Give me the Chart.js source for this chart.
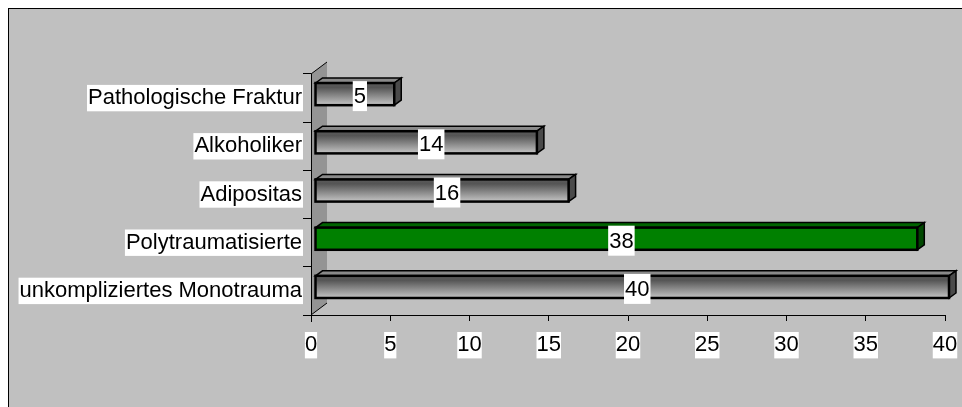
<!DOCTYPE html>
<html>
<head>
<meta charset="utf-8">
<script src="https://cdn.jsdelivr.net/npm/chart.js@4"></script>
<style>
  html, body { margin: 0; padding: 0; background: #fff; overflow: hidden; }
  #frame {
    position: absolute; left: 8px; top: 8px; width: 2000px; height: 2000px;
    background: #c0c0c0; border-left: 1px solid #000; border-top: 1px solid #000;
  }
  #graph { position: absolute; left: 0; top: 0; }
</style>
</head>
<body>
<div id="frame"></div>
<canvas id="graph" width="962" height="407"></canvas>
<script>
const categories = [
  "Pathologische Fraktur",
  "Alkoholiker",
  "Adipositas",
  "Polytraumatisierte",
  "unkompliziertes Monotrauma",
];
const counts = [5, 14, 16, 38, 40];
const highlighted = "Polytraumatisierte";
const xMin = 0;
const xMax = 40;
const xStep = 5;

const FONT = { family: "'Liberation Sans', Arial, sans-serif", size: 22 };

// 3d look: wall depth, bar offset and bar depth
const WALL_DX = 16, WALL_DY = -12;
const OX = 4, OY = -4;
const DX = 7, DY = -5;

const bar3d = {
  id: "bar3d",
  beforeDatasetsDraw(chart) {
    const { ctx, chartArea } = chart;
    const l = chartArea.left, t = chartArea.top, b = chartArea.bottom;
    ctx.save();
    ctx.beginPath();
    ctx.moveTo(l, t);
    ctx.lineTo(l + WALL_DX, t + WALL_DY);
    ctx.lineTo(l + WALL_DX, b + WALL_DY);
    ctx.lineTo(l, b);
    ctx.closePath();
    ctx.fillStyle = "#949494";
    ctx.fill();
    ctx.strokeStyle = "#000";
    ctx.lineWidth = 1;
    ctx.beginPath();
    ctx.moveTo(l + 0.5, t);
    ctx.lineTo(l + 0.5, b + 7);
    ctx.moveTo(l, t);
    ctx.lineTo(l + WALL_DX, t + WALL_DY);
    ctx.moveTo(l, b);
    ctx.lineTo(l + WALL_DX, b + WALL_DY);
    ctx.stroke();
    ctx.restore();
  },
  afterDatasetsDraw(chart) {
    const { ctx } = chart;
    const meta = chart.getDatasetMeta(0);
    meta.data.forEach((bar, i) => {
      const green = categories[i] === highlighted;
      const left = bar.base + OX, right = bar.x + OX;
      const top = bar.y - bar.height / 2 + OY, bottom = bar.y + bar.height / 2 + OY;
      ctx.save();
      ctx.lineJoin = "miter";
      // top face
      ctx.beginPath();
      ctx.moveTo(left, top);
      ctx.lineTo(left + DX, top + DY);
      ctx.lineTo(right + DX, top + DY);
      ctx.lineTo(right, top);
      ctx.closePath();
      ctx.fillStyle = green ? "#006400" : "#8a8a8a";
      ctx.fill();
      ctx.strokeStyle = "#000";
      ctx.lineWidth = 1.5;
      ctx.stroke();
      // side face
      ctx.beginPath();
      ctx.moveTo(right, top);
      ctx.lineTo(right + DX, top + DY);
      ctx.lineTo(right + DX, bottom + DY);
      ctx.lineTo(right, bottom);
      ctx.closePath();
      ctx.fillStyle = green ? "#004800" : "#4a4a4a";
      ctx.fill();
      ctx.stroke();
      // front face
      let fill;
      if (green) {
        fill = "#008000";
      } else {
        fill = ctx.createLinearGradient(0, top, 0, bottom);
        fill.addColorStop(0, "#5a5a5a");
        fill.addColorStop(0.2, "#555555");
        fill.addColorStop(1, "#c4c4c4");
      }
      ctx.fillStyle = fill;
      ctx.fillRect(left, top, right - left, bottom - top);
      ctx.lineWidth = 2.5;
      ctx.strokeRect(left, top, right - left, bottom - top);

      // value label
      const text = String(counts[i]);
      ctx.font = `${FONT.size}px ${FONT.family}`;
      const w = ctx.measureText(text).width;
      const cx = (bar.base + bar.x) / 2 + OX + 5;
      const cy = bar.y - 2;
      ctx.fillStyle = "#fff";
      ctx.fillRect(cx - w / 2 - 1, cy - 15, w + 2, 30);
      ctx.fillStyle = "#000";
      ctx.textAlign = "center";
      ctx.textBaseline = "middle";
      ctx.fillText(text, cx, cy + 1);
      ctx.restore();
    });
  },
};

new Chart(document.getElementById("graph"), {
  type: "bar",
  data: {
    labels: categories,
    datasets: [{
      data: counts,
      backgroundColor: "rgba(0,0,0,0)",
      borderWidth: 0,
      categoryPercentage: 1,
      barPercentage: 0.46,
    }],
  },
  options: {
    indexAxis: "y",
    responsive: false,
    devicePixelRatio: 1,
    animation: false,
    layout: { padding: { top: 74, right: 17, left: 0, bottom: 0 } },
    plugins: { legend: { display: false }, tooltip: { enabled: false } },
    scales: {
      x: {
        min: xMin,
        max: xMax,
        afterFit(scale) {
          scale.height = 92;
          scale.paddingLeft = 0;
          scale.paddingRight = 0;
        },
        ticks: {
          stepSize: xStep,
          color: "#000",
          font: FONT,
          padding: 11,
          maxRotation: 0,
          showLabelBackdrop: true,
          backdropColor: "#fff",
          backdropPadding: { x: 0, y: 0 },
        },
        grid: { drawOnChartArea: false, drawTicks: true, tickLength: 6, color: "#000" },
        border: { display: true, color: "#000", width: 1 },
      },
      y: {
        afterFit(scale) { scale.width = 311; },
        ticks: {
          color: "#000",
          font: FONT,
          padding: 1,
          showLabelBackdrop: true,
          backdropColor: "#fff",
          backdropPadding: { x: 1, y: 0 },
        },
        grid: { drawOnChartArea: false, drawTicks: true, tickLength: 8, color: "#000", offset: true },
        border: { display: false },
      },
    },
  },
  plugins: [bar3d],
});
</script>
</body>
</html>
